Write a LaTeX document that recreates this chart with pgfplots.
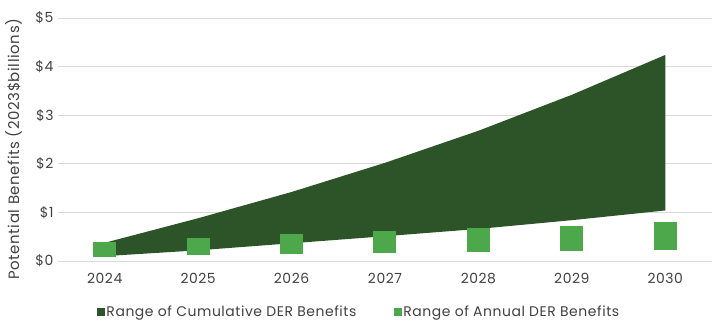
\documentclass[border=0pt]{standalone}
\usepackage{fontspec}
\setmainfont{Poppins}[LetterSpace=4]
\usepackage{pgfplots}
\pgfplotsset{compat=1.18}
\definecolor{dkgreen}{HTML}{2C5428}
\definecolor{ltgreen}{HTML}{4CA84A}
\definecolor{txtgray}{HTML}{404040}
\definecolor{gridgray}{HTML}{D9D9D9}
\begin{document}
\begin{tikzpicture}
\begin{axis}[
  at={(0,0)}, anchor=south west,
  scale only axis, width=654bp, height=243bp,
  xmin=2023.5, xmax=2030.5, ymin=0, ymax=5,
  xtick={2024,2025,2026,2027,2028,2029,2030},
  xticklabels={2024,2025,2026,2027,2028,2029,2030},
  ytick={0,1,2,3,4,5},
  yticklabels={\$0,\$1,\$2,\$3,\$4,\$5},
  axis line style={draw=none},
  major tick length=0pt,
  ymajorgrids, grid style={gridgray, line width=1pt},
  tick label style={font=\fontsize{14}{16}\selectfont, text=txtgray},
  xticklabel style={yshift=-9bp},
  yticklabel style={xshift=-1bp},
  ylabel={Potential Benefits (2023\$billions)},
  ylabel style={at={(axis description cs:-0.068,0.46)}, anchor=center, font=\fontsize{15}{17}\selectfont, text=txtgray},
  legend columns=2,
  legend style={at={(axis description cs:0.46,-0.21)}, anchor=center, draw=none, fill=none,
    font=\fontsize{14}{16}\selectfont, text=txtgray, nodes={inner xsep=1.5bp},
    /tikz/every even column/.append style={column sep=36bp}},
  legend cell align=left,
  clip=false,
]
\addplot[fill=dkgreen, draw=none,
  legend image code/.code={\fill[dkgreen] (0bp,-4bp) rectangle (8bp,4bp);}]
  coordinates {
  (2024,0.375) (2025,0.88) (2026,1.42) (2027,2.02) (2028,2.68) (2029,3.42) (2030,4.24)
  (2030,1.04) (2029,0.84) (2028,0.66) (2027,0.51) (2026,0.365) (2025,0.22) (2024,0.10)
  } -- cycle;
\addlegendentry{Range of Cumulative DER Benefits}
\addplot[draw=none, mark=none,
  legend image code/.code={\fill[ltgreen] (0bp,-4bp) rectangle (8bp,4bp);},
  error bars/.cd, y dir=both, y explicit, error mark=none,
  error bar style={ltgreen, line width=23bp},
  ] 
  coordinates {
  (2024,0.24) +- (0,0.15)
  (2025,0.295) +- (0,0.175)
  (2026,0.345) +- (0,0.205)
  (2027,0.385) +- (0,0.225)
  (2028,0.425) +- (0,0.245)
  (2029,0.465) +- (0,0.265)
  (2030,0.51) +- (0,0.29)
  };
\addlegendentry{Range of Annual DER Benefits}
\end{axis}
\pgfresetboundingbox
\path[use as bounding box] (-58bp,-67bp) rectangle (659bp,261bp);
\end{tikzpicture}
\end{document}
